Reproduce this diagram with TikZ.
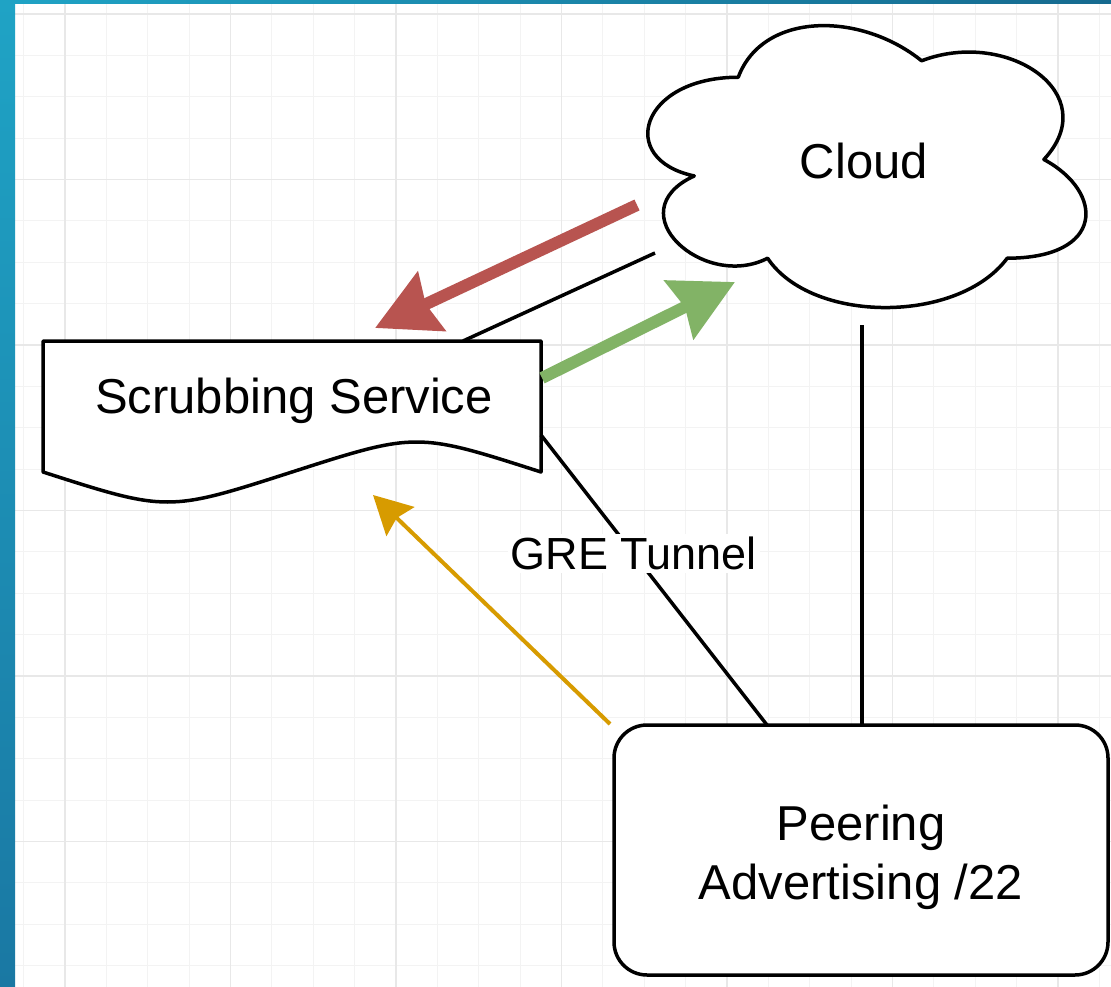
\documentclass[tikz,border=0pt]{standalone}
\usepackage{fontspec}
\setmainfont{Liberation Sans}
\usetikzlibrary{arrows.meta}
\definecolor{framelight}{HTML}{1FA3C5}
\definecolor{framedark}{HTML}{1A78A3}
\definecolor{frametopr}{HTML}{166A8F}
\definecolor{gridminor}{HTML}{F3F3F3}
\definecolor{gridmajor}{HTML}{E8E8E8}
\definecolor{redarrow}{HTML}{B85450}
\definecolor{greenarrow}{HTML}{82B366}
\definecolor{yellowarrow}{HTML}{D79B00}
\begin{document}
\begin{tikzpicture}[x=1pt,y=-1pt,
  shapeline/.style={draw=black,line width=3.5pt,fill=white,line join=round},
  conn/.style={draw=black,line width=3.5pt},
  bigfont/.style={font=\fontsize{49}{59}\selectfont},
  labelfont/.style={font=\fontsize{45}{54}\selectfont},
  fatarrow/.style={line width=12pt,-{Stealth[length=62pt,width=64pt,inset=6pt]}},
  thinarrow/.style={line width=4pt,-{Stealth[length=38pt,width=40pt,inset=5pt]}},
  gridmin/.style={draw=gridminor,line width=1pt},
  gridmaj/.style={draw=gridmajor,line width=1.4pt},
]
\useasboundingbox (0,0) rectangle (1111,987);
\fill[white] (0,0) rectangle (1111,987);
% grid
\foreach \i in {-1,...,25} { \draw[gridmin] ({65+41.375*\i},0) -- ++(0,987); }
\foreach \j in {0,...,23} { \draw[gridmin] (0,{14+41.375*\j}) -- ++(1111,0); }
\foreach \i in {0,...,6} { \draw[gridmaj] ({65+165.5*\i},0) -- ++(0,987); }
\foreach \j in {0,...,5} { \draw[gridmaj] (0,{14+165.5*\j}) -- ++(1111,0); }
% frame
\shade[top color=framelight,bottom color=framedark] (0,0) rectangle (15,987);
\shade[left color=framelight,right color=frametopr] (0,0) rectangle (1111,4);
% cloud outline
\draw[shapeline] (738.25,77.25)
  .. controls (640.45,77.25) and (616,159.5) .. (694.24,175.95)
  .. controls (616,212.1) and (704.02,291.1) .. (767.59,258.2)
  .. controls (811.6,324) and (958.3,324) .. (1007.2,258.2)
  .. controls (1105,258.2) and (1105,192.4) .. (1043.9,159.5)
  .. controls (1105,93.7) and (1007.2,27.9) .. (921.6,60.8)
  .. controls (860.5,11.45) and (762.7,11.45) .. (738.25,77.25) -- cycle;
% scrubbing service document shape
\draw[shapeline] (43,341) -- (541,341) -- (541,472)
  .. controls (416.5,432) .. (292,472)
  .. controls (167.5,512) .. (43,472) -- cycle;
% nodes
\node[bigfont] (cloud) at (864,161) {Cloud};
\node[bigfont] (scrub) at (294,401) {Scrubbing Service};
\node[shapeline, rounded corners=33pt, minimum width=494pt, minimum height=250pt,
      bigfont, align=center, inner sep=0pt] (peer) at (861,850)
      {\rule{0pt}{50pt}Peering\\Advertising /22};
% connector end points
\coordinate (redS) at (637,205);
\coordinate (redE) at (375,328);
\coordinate (blkA) at (463,341);
\coordinate (blkB) at (655,253);
\coordinate (grnS) at (542,378);
\coordinate (grnE) at (735,282);
\coordinate (yelS) at (610,724);
\coordinate (yelE) at (373,495);
\coordinate (greA) at (541,435);
\coordinate (greB) at (767,725);
\coordinate (vA) at (862,325);
\coordinate (vB) at (862,725);
% connectors
\draw[conn] (blkA) -- (blkB);
\draw[conn] (vA) -- (vB);
\draw[conn] (greA) -- node[pos=0.41, fill=white, labelfont, inner sep=3pt] (gre) {GRE Tunnel} (greB);
\draw[fatarrow, draw=redarrow, fill=redarrow] (redS) -- (redE);
\draw[fatarrow, draw=greenarrow, fill=greenarrow] (grnS) -- (grnE);
\draw[thinarrow, draw=yellowarrow, fill=yellowarrow] (yelS) -- (yelE);
\end{tikzpicture}
\end{document}
